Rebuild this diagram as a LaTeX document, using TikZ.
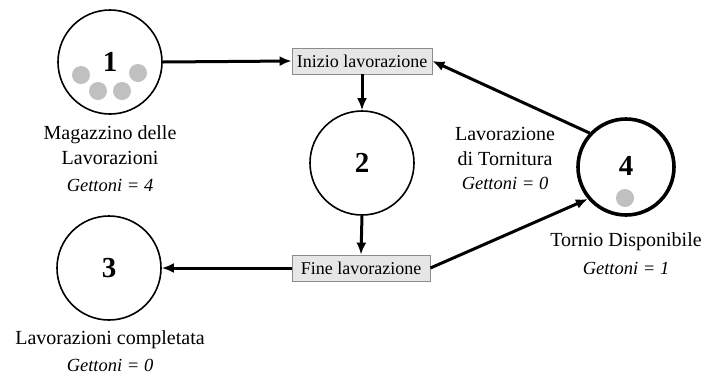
\documentclass[tikz,border=0pt]{standalone}
\usepackage{fontspec}
\setmainfont{Liberation Serif}
\usetikzlibrary{arrows.meta}
\definecolor{tokengray}{HTML}{C0C0C0}
\definecolor{boxfill}{HTML}{E6E6E6}
\definecolor{boxdraw}{HTML}{8C8C8C}
\tikzset{
  place/.style={circle, draw=black, line width=1.6pt, minimum size=104pt, inner sep=0pt,
    font=\fontsize{29}{30}\selectfont\bfseries},
  thickplace/.style={place, line width=3.6pt, minimum size=96pt},
  trans/.style={rectangle, draw=boxdraw, fill=boxfill, line width=0.8pt, minimum height=26pt,
    inner sep=0pt, font=\fontsize{18}{20}\selectfont},
  token/.style={circle, fill=tokengray, minimum size=18pt, inner sep=0pt},
  lbl/.style={align=center, font=\fontsize{20}{25}\selectfont},
  gett/.style={font=\fontsize{18.5}{20}\selectfont\itshape},
  arr/.style={line width=3pt, -{Latex[length=12pt,width=10pt]}}
}
\begin{document}
\begin{tikzpicture}[x=1pt,y=-1pt]
\useasboundingbox (0,0) rectangle (707,376);
% places
\node[place] (c1) at (110,62) {1};
\node[place] (c2) at (362,163) {2};
\node[place] (c3) at (109,268) {3};
\node[thickplace] (c4) at (626,167) {\raisebox{3pt}{4}};
% tokens
\node[token] (t1) at (81,75) {};
\node[token] (t2) at (98,91) {};
\node[token] (t3) at (122,91) {};
\node[token] (t4) at (138,73) {};
\node[token] (t5) at (625,198) {};
% transitions
\node[trans, minimum width=140pt] (ini) at (362,61) {Inizio lavorazione};
\node[trans, minimum width=138pt] (fin) at (361,268) {Fine lavorazione};
% labels
\node[lbl] (l1) at (110,145) {Magazzino delle\\Lavorazioni};
\node[gett] (g1) at (110,185) {Gettoni = 4};
\node[lbl] (l4a) at (505,146) {Lavorazione\\di Tornitura};
\node[gett] (g4a) at (505,183) {Gettoni = 0};
\node[lbl] (l4b) at (626,242) {Tornio Disponibile};
\node[gett] (g4b) at (626,268) {Gettoni = 1};
\node[lbl] (l3) at (110,340) {Lavorazioni completata};
\node[gett] (g3) at (110,365) {Gettoni = 0};
% arcs
\draw[arr] (c1.east) -- (ini.west);
\draw[arr] (ini.south) -- (c2.north);
\draw[arr] (c2.south) -- (fin.north);
\draw[arr] (fin.west) -- (c3.east);
\draw[arr] (fin.east) -- (c4.220);
\draw[arr] (c4.137) -- (ini.east);
\end{tikzpicture}
\end{document}
